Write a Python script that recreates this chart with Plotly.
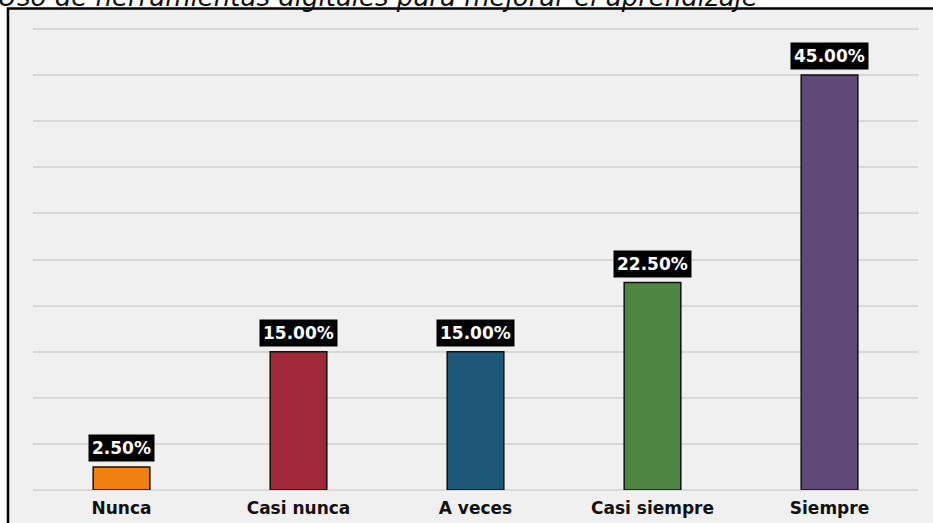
import plotly.graph_objects as go

categories = ["Nunca", "Casi nunca", "A veces", "Casi siempre", "Siempre"]
values = [2.5, 15.0, 15.0, 22.5, 45.0]
colors = ["#F08010", "#A12838", "#1E5878", "#4E8542", "#5F4877"]
title_text = "Uso de herramientas digitales para mejorar el aprendizaje"

W, H = 933, 523
L, R, T, B = 33, 15, 27, 33
pw, ph = W - L - R, H - T - B
ymax = 50 * ph / (490 - 29)

fig = go.Figure()
fig.add_trace(go.Bar(
    x=categories, y=values, width=0.32,
    marker=dict(color=colors, line=dict(color="#111111", width=1.5)),
    hoverinfo="skip",
))

for c, v in zip(categories, values):
    fig.add_annotation(
        x=c, y=v, xref="x", yref="y", yanchor="bottom", yshift=5,
        text=f"{v:.2f}%", showarrow=False,
        font=dict(family="DejaVu Sans", size=17, color="white", weight="bold"),
        bgcolor="black", borderpad=3,
    )

def px_x(p):
    return (p - L) / pw

def px_y(p):
    return 1 + (T - p) / ph

fig.add_shape(type="rect", xref="paper", yref="paper",
              x0=px_x(8), x1=px_x(960), y0=px_y(560), y1=px_y(8.5),
              fillcolor="#F0F0F0", line=dict(color="black", width=2.5),
              layer="below")

fig.add_annotation(
    xref="paper", yref="paper", x=px_x(-4), y=px_y(14), xanchor="left", yanchor="bottom",
    text=f"<i>{title_text}</i>", showarrow=False,
    font=dict(family="DejaVu Sans", size=26, color="#111111"),
)

fig.update_layout(
    width=W, height=H,
    margin=dict(l=L, r=R, t=T, b=B, autoexpand=False),
    paper_bgcolor="white", plot_bgcolor="rgba(0,0,0,0)",
    showlegend=False,
    xaxis=dict(range=[-0.5, 4.5], showgrid=False, zeroline=False, showline=False, automargin=False,
               ticks="", tickfont=dict(family="DejaVu Sans", size=17, color="#111111", weight="bold"),
               ticklabelstandoff=6),
    yaxis=dict(range=[0, ymax], dtick=5, showgrid=True, gridcolor="#D8D8D8", gridwidth=1.5,
               automargin=False,
               zeroline=True, zerolinecolor="#D8D8D8", zerolinewidth=1.5,
               showticklabels=False, ticks=""),
)

fig.write_html("out.html")
